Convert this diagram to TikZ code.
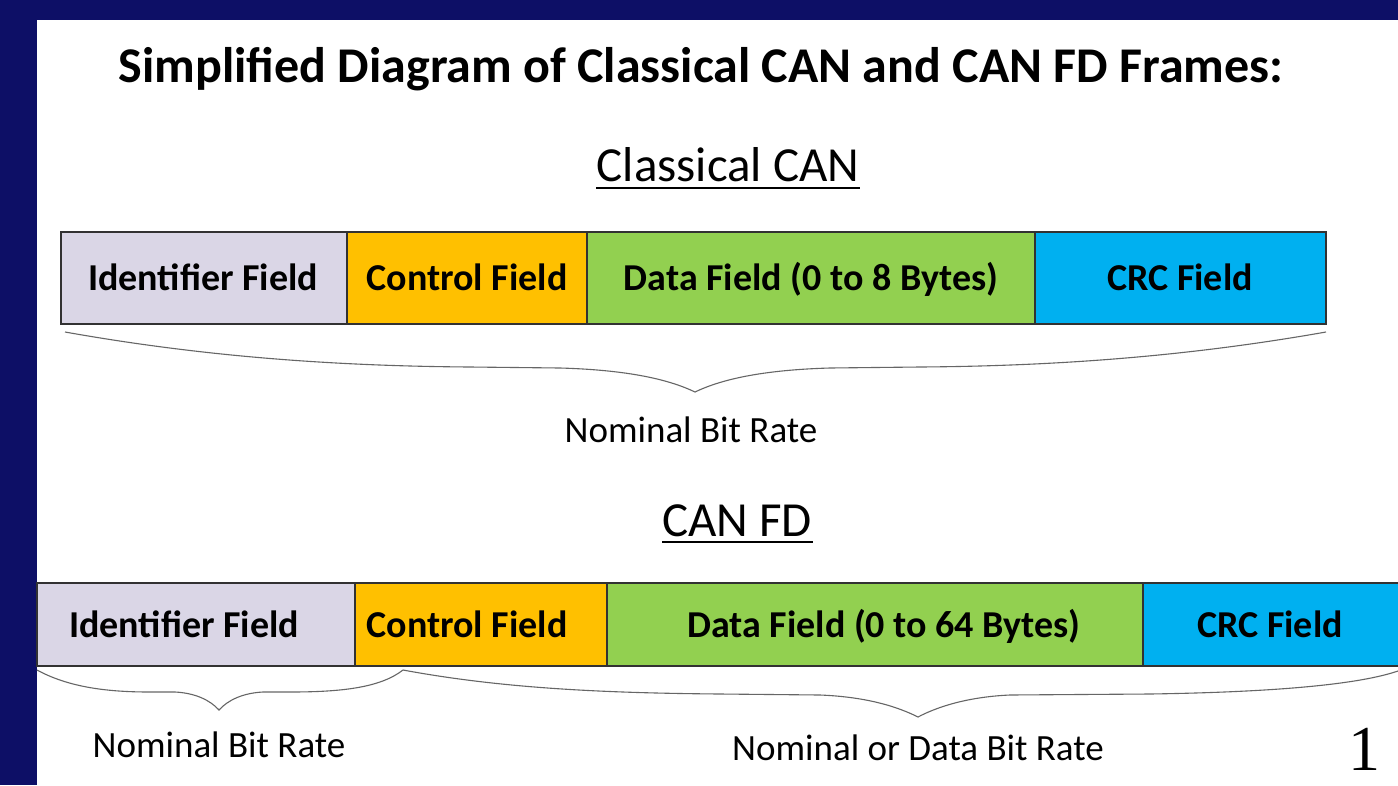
\documentclass[tikz,border=0pt]{standalone}
\usepackage{fontspec}
\setmainfont{Carlito}
\newfontfamily\numfont{Liberation Serif}
\definecolor{navy}{RGB}{13,15,102}
\definecolor{idcol}{RGB}{218,214,230}
\definecolor{ctlcol}{RGB}{255,192,0}
\definecolor{datacol}{RGB}{146,208,80}
\definecolor{crccol}{RGB}{0,176,240}
\definecolor{edge}{RGB}{50,50,50}
\tikzset{
  fieldbox/.style={draw=edge, line width=1.3pt, inner sep=0pt},
  fieldtxt/.style={font=\fontsize{38}{44}\selectfont\bfseries, inner sep=0pt, anchor=base},
  bracepath/.style={draw=black!60, line width=1.1pt},
  ratetxt/.style={font=\fontsize{37}{44}\selectfont, inner sep=0pt, anchor=base},
  headtxt/.style={font=\fontsize{49}{56}\selectfont, inner sep=0pt, anchor=base},
}
\begin{document}
\begin{tikzpicture}[x=1pt,y=-1pt]
\useasboundingbox (0,0) rectangle (1398,785);
\fill[white] (0,0) rectangle (1398,785);
% border
\fill[navy] (0,0) rectangle (1398,20);
\fill[navy] (0,0) rectangle (37,785);
% title
\node[font=\fontsize{50}{58}\selectfont\bfseries, inner sep=0pt, anchor=base] (title) at (701,82) {Simplified Diagram of Classical CAN and CAN FD Frames:};
% Classical CAN heading
\node[headtxt] (hc) at (728,181) {Classical CAN};
\draw[line width=2.4pt] (596,188) -- (860,188);
% classical boxes
\path[fieldbox, fill=idcol]   (61,232) rectangle (347,324);
\path[fieldbox, fill=ctlcol]  (347,232) rectangle (587,324);
\path[fieldbox, fill=datacol] (587,232) rectangle (1035,324);
\path[fieldbox, fill=crccol]  (1035,232) rectangle (1326,324);
\node[fieldtxt] (c1) at (203,290) {Identifier Field};
\node[fieldtxt] (c2) at (467,290) {Control Field};
\node[fieldtxt] (c3) at (811,290) {Data Field (0 to 8 Bytes)};
\node[fieldtxt] (c4) at (1180,290) {CRC Field};
% classical brace
\coordinate (cbA) at (65,332);
\coordinate (cbT) at (695,392);
\coordinate (cbB) at (1326,332);
\draw[bracepath] (cbA) .. controls (200,356) and (330,366) .. (470,367)
  -- (560,368) .. controls (630,370) and (670,380) .. (cbT)
  .. controls (720,380) and (760,370) .. (830,368)
  -- (920,367) .. controls (1060,366) and (1190,356) .. (cbB);
\node[ratetxt] (cr) at (691,442) {Nominal Bit Rate};
% CAN FD heading
\node[headtxt] (hf) at (737,536) {CAN FD};
\draw[line width=2.4pt] (662,542) -- (813,542);
% FD boxes
\path[fieldbox, fill=idcol]   (37,583) rectangle (355,666);
\path[fieldbox, fill=ctlcol]  (355,583) rectangle (607,666);
\path[fieldbox, fill=datacol] (607,583) rectangle (1143,666);
\path[fieldbox, fill=crccol]  (1143,583) rectangle (1402,666);
\node[fieldtxt] (f1) at (184,637) {Identifier Field};
\node[fieldtxt] (f2) at (467,637) {Control Field};
\node[fieldtxt] (f3) at (884,637) {Data Field (0 to 64 Bytes)};
\node[fieldtxt] (f4) at (1270,637) {CRC Field};
% FD braces
\coordinate (fbA) at (37,670);
\coordinate (fbT) at (219,710);
\coordinate (fbB) at (403,670);
\draw[bracepath] (fbA) .. controls (70,688) and (110,692) .. (150,692)
  -- (175,692) .. controls (195,693) and (210,700) .. (fbT)
  .. controls (228,700) and (243,693) .. (263,692)
  -- (290,692) .. controls (340,692) and (380,688) .. (fbB);
\coordinate (gbA) at (403,670);
\coordinate (gbT) at (918,717);
\coordinate (gbB) at (1398,671);
\draw[bracepath] (gbA) .. controls (500,688) and (600,693) .. (720,694)
  -- (820,695) .. controls (870,697) and (900,708) .. (gbT)
  .. controls (935,708) and (965,697) .. (1010,695)
  -- (1150,694) .. controls (1280,692) and (1360,684) .. (gbB);
\node[ratetxt] (fr1) at (219,757) {Nominal Bit Rate};
\node[ratetxt] (fr2) at (918,760) {Nominal or Data Bit Rate};
% page number
\node[font=\numfont\fontsize{64}{72}\selectfont, inner sep=0pt, anchor=base] (pg) at (1364,770) {1};
\end{tikzpicture}
\end{document}
